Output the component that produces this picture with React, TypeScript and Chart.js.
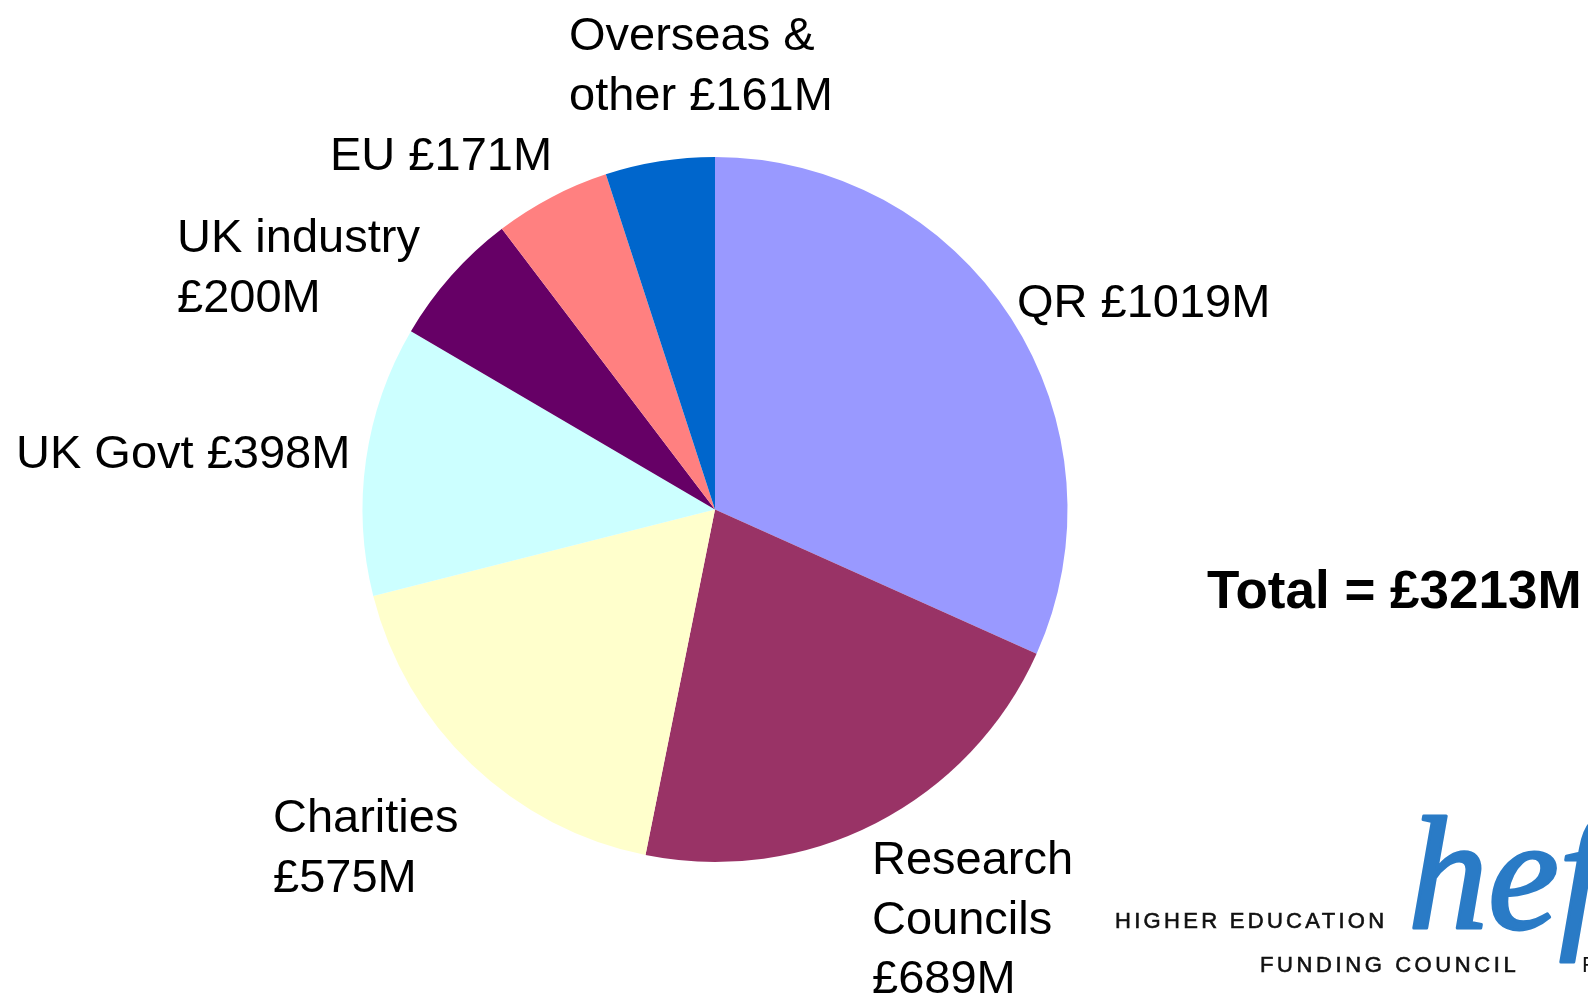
import React, { useEffect, useRef } from "react";
import { Chart, registerables } from "chart.js";

Chart.register(...registerables);

const categories = ["QR", "Research Councils", "Charities", "UK Govt", "UK industry", "EU", "Overseas & other"];
const values = [1019, 689, 575, 398, 200, 171, 161];
const labelLines = [
  ["QR £1019M"],
  ["Research", "Councils", "£689M"],
  ["Charities", "£575M"],
  ["UK Govt £398M"],
  ["UK industry", "£200M"],
  ["EU £171M"],
  ["Overseas &", "other £161M"],
];
const colors = ["#9999FF", "#993366", "#FFFFCC", "#CCFFFF", "#660066", "#FF8080", "#0066CC"];
const totalText = "Total = £3213M";

// label layout: left x, first baseline
const labelPos = [
  [1017, 317],
  [872, 874],
  [273, 832],
  [16, 468],
  [177, 252],
  [330, 170],
  [569, 50],
];

const labelPlugin = {
  id: "labels",
  afterDraw(chart: any) {
    const ctx = chart.ctx;
    ctx.save();
    ctx.fillStyle = "#000";
    ctx.textAlign = "left";
    ctx.textBaseline = "alphabetic";
    ctx.font = "47px 'Liberation Sans', Arial, sans-serif";
    labelLines.forEach((lines, i) => {
      const [x, y] = labelPos[i];
      lines.forEach((t, j) => ctx.fillText(t, x, y + j * 59.5));
    });
    ctx.font = "bold 53px 'Liberation Sans', Arial, sans-serif";
    ctx.fillText(totalText, 1207, 608);

    // logo
    ctx.fillStyle = "#111";
    ctx.strokeStyle = "#111";
    ctx.lineWidth = 0.6;
    ctx.font = "22px 'Liberation Sans', Arial, sans-serif";
    (ctx as any).letterSpacing = "3.3px";
    ctx.fillText("HIGHER EDUCATION", 1115, 928);
    ctx.strokeText("HIGHER EDUCATION", 1115, 928);
    (ctx as any).letterSpacing = "3.6px";
    ctx.fillText("FUNDING COUNCIL", 1260, 972);
    ctx.strokeText("FUNDING COUNCIL", 1260, 972);
    ctx.fillText("FOR ENGLAND", 1582, 972);
    (ctx as any).letterSpacing = "0px";
    ctx.fillStyle = "#2A7BC6";
    ctx.strokeStyle = "#2A7BC6";
    ctx.lineWidth = 3;
    ctx.lineJoin = "round";
    ctx.font = "italic 160px 'Liberation Serif', serif";
    ctx.fillText("hefce", 1408, 928);
    ctx.strokeText("hefce", 1408, 928);
    ctx.restore();
  },
};

export default function App() {
  const ref = useRef<HTMLCanvasElement>(null);
  useEffect(() => {
    document.body.style.margin = "0";
    const chart = new Chart(ref.current!, {
      type: "pie",
      data: {
        labels: categories,
        datasets: [
          {
            data: values,
            backgroundColor: colors,
            borderWidth: 0,
            hoverOffset: 0,
            hoverBorderWidth: 0,
          },
        ],
      },
      options: {
        responsive: false,
        animation: false,
        layout: { padding: { left: 362.5, right: 520.5, top: 157, bottom: 134 } },
        plugins: { legend: { display: false }, tooltip: { enabled: false } },
      },
      plugins: [labelPlugin],
    });
    return () => chart.destroy();
  }, []);
  return (
    <canvas
      ref={ref}
      width={1588}
      height={996}
      style={{ display: "block", position: "fixed", top: 0, left: 0, width: 1588, height: 996 }}
    />
  );
}
